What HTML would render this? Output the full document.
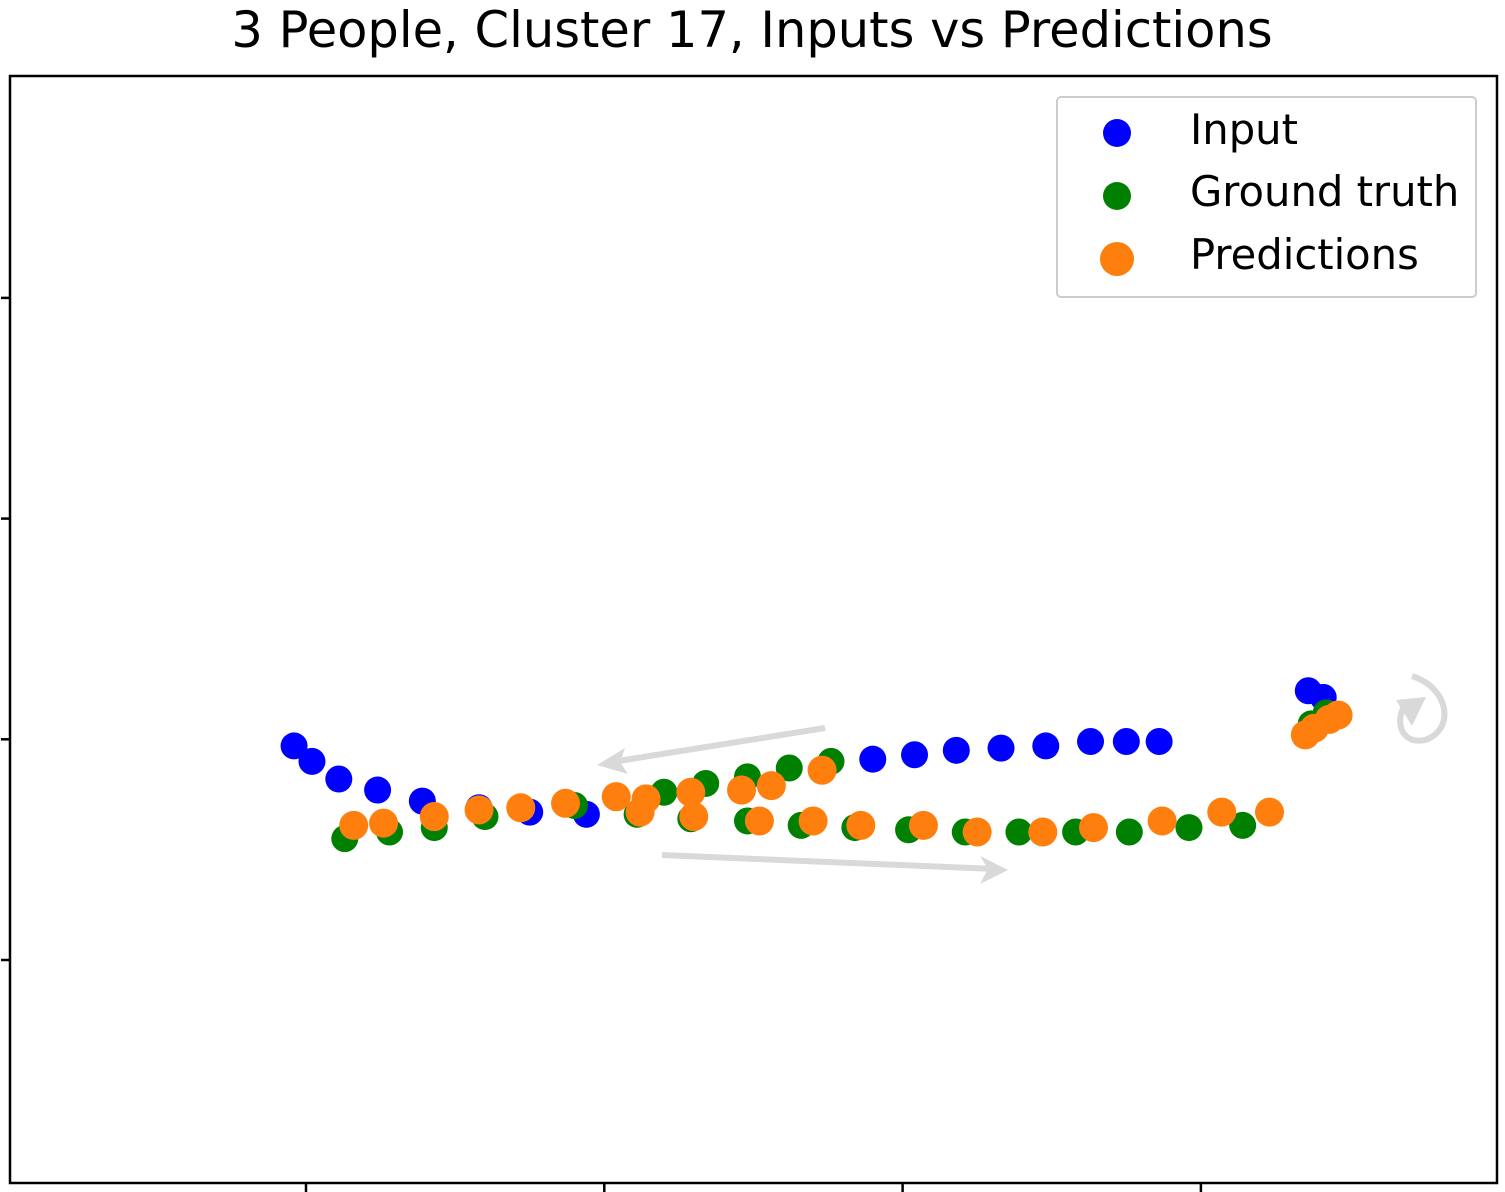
<!DOCTYPE html>
<html><head><meta charset="utf-8"><style>
body{margin:0;background:#fff}
svg{display:block;font-family:"Liberation Sans","DejaVu Sans",sans-serif}
</style></head><body>
<svg id="chart" width="1505" height="1192" viewBox="0 0 1505 1192">
<text x="752" y="47" font-size="49.5" text-anchor="middle" fill="#000" font-family="DejaVu Sans, sans-serif">3 People, Cluster 17, Inputs vs Predictions</text>
<rect x="10" y="76" width="1487" height="1107" fill="none" stroke="#000" stroke-width="2.5"/>
<g id="ticks"></g>
<g stroke="#d9d9d9" stroke-width="6" fill="none" stroke-linecap="butt">
<path d="M825 728 L612 762"/>
<path d="M597 765 L625 748 L620 762 L628 774 Z" fill="#d9d9d9" stroke="none"/>
<path d="M662 855 L995 869"/>
<path d="M1008 870 L980 856 L988 869 L980 884 Z" fill="#d9d9d9" stroke="none"/>
<path d="M1412 676 C1450 688 1455 730 1425 740 C1400 745 1395 720 1405 705"/>
<path d="M1396 700 L1426 697 L1412 726 Z" fill="#d9d9d9" stroke="none"/>
</g>
<g id="points"></g>
<g>
<rect x="1057" y="97" width="419" height="200" rx="4" fill="#fff" fill-opacity="0.8" stroke="#ccc" stroke-width="2"/>
<circle cx="1117" cy="133" r="14" fill="#0000ff"/>
<text x="1190" y="144" font-size="41.7" font-family="DejaVu Sans, sans-serif">Input</text>
<circle cx="1117" cy="196" r="14" fill="#008000"/>
<text x="1190" y="206" font-size="41.7" font-family="DejaVu Sans, sans-serif">Ground truth</text>
<circle cx="1117" cy="259" r="17" fill="#ff7f0e"/>
<text x="1190" y="269" font-size="41.7" font-family="DejaVu Sans, sans-serif">Predictions</text>
</g>
</svg>
<script>
const xTicks=[0,10,20,30];
const yTicks=[0,10,20,30];
const inputX=[-0.4,0.2,1.1,2.4,3.9,5.8,7.5,9.4,19.0,20.4,21.8,23.3,24.8,26.3,27.5,28.6,33.6,34.1];
const inputY=[9.7,9.0,8.2,7.7,7.2,6.9,6.7,6.6,9.1,9.3,9.5,9.6,9.7,9.9,9.9,9.9,12.2,11.9];
const truthX=[1.3,2.8,4.3,6.0,9.0,11.1,12.0,12.9,13.4,14.8,14.8,16.2,16.6,17.6,18.4,20.2,22.1,23.9,25.8,27.6,29.6,31.4,33.7,34.2];
const truthY=[5.5,5.8,6.0,6.5,7.0,6.6,7.6,6.4,8.0,6.3,8.3,8.7,6.1,9.0,6.0,5.9,5.8,5.8,5.8,5.8,6.0,6.1,10.7,11.2];
const predX=[1.6,2.6,4.3,5.8,7.2,8.7,10.4,11.2,11.4,12.9,13.0,14.6,15.2,15.6,17.0,17.3,18.6,20.7,22.5,24.7,26.4,28.7,30.7,32.3,33.5,33.8,34.3,34.6];
const predY=[6.1,6.2,6.5,6.8,6.9,7.1,7.4,6.7,7.3,7.6,6.5,7.7,6.3,7.9,6.3,8.6,6.1,6.1,5.8,5.8,6.0,6.3,6.7,6.7,10.2,10.5,10.9,11.1];
const NS='http://www.w3.org/2000/svg';
function sx(v){return 306+v*29.83;}
function sy(v){return 960-v*22.07;}
const tg=document.getElementById('ticks');
xTicks.forEach(t=>{const l=document.createElementNS(NS,'line');
l.setAttribute('x1',sx(t));l.setAttribute('x2',sx(t));l.setAttribute('y1',1183);l.setAttribute('y2',1192);
l.setAttribute('stroke','#000');l.setAttribute('stroke-width','2.5');


tg.appendChild(l);});
yTicks.forEach(t=>{const l=document.createElementNS(NS,'line');
l.setAttribute('x1',1);l.setAttribute('x2',10);l.setAttribute('y1',sy(t));l.setAttribute('y2',sy(t));
l.setAttribute('stroke','#000');l.setAttribute('stroke-width','2.5');


tg.appendChild(l);});
const pg=document.getElementById('points');
function draw(xs,ys,color,r,name){xs.forEach((x,i)=>{const c=document.createElementNS(NS,'circle');
c.setAttribute('cx',sx(x));c.setAttribute('cy',sy(ys[i]));c.setAttribute('r',r);c.setAttribute('fill',color);


pg.appendChild(c);});}
draw(inputX,inputY,'#0000ff',13.5,'input-point');
draw(truthX,truthY,'#008000',13.5,'ground-truth-point');
draw(predX,predY,'#ff7f0e',14.5,'prediction-point');
</script>
</body></html>
